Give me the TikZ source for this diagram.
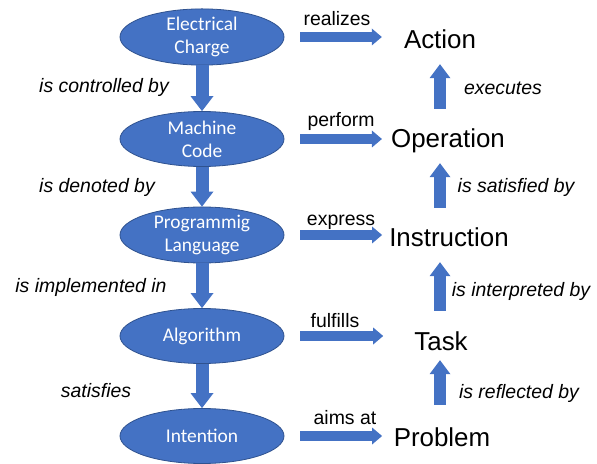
\documentclass[tikz,border=0pt]{standalone}
\usepackage{fontspec}
\setmainfont{Liberation Sans}
\newfontfamily\calibrifont{Carlito}
\usetikzlibrary{shapes.geometric,arrows.meta}
\definecolor{boxblue}{HTML}{4472C4}
\definecolor{edgeblue}{HTML}{2F528F}

\begin{document}
\begin{tikzpicture}[x=1bp,y=-1bp,
  layer/.style={ellipse,fill=boxblue,draw=edgeblue,line width=0.8bp,minimum width=164bp,minimum height=55bp,inner sep=0pt,text=white,align=center,font=\calibrifont\fontsize{19.5}{23}\selectfont},
  concept/.style={inner sep=0pt,text height=19bp,text depth=0pt,anchor=base,font=\fontsize{26}{30}\selectfont},
  verb/.style={inner sep=0pt,anchor=base,font=\fontsize{19.5}{23}\selectfont},
  relation/.style={verb,font=\fontsize{19.5}{23}\selectfont\itshape},
  downflow/.style={draw=boxblue,line width=13bp,-{Triangle[width=23bp,length=15bp,line width=0pt]}},
  sideflow/.style={draw=boxblue,line width=9.5bp,shorten <=16bp,-{Triangle[width=17bp,length=10bp,line width=0pt]}},
  upflow/.style={draw=boxblue,line width=12bp,shorten <=20bp,shorten >=15bp,-{Triangle[width=21bp,length=14bp,line width=0pt]}}]
 \useasboundingbox (0,0) rectangle (597,464);

 %Layers
 \node[layer] (charge) at (202,37) {Electrical\\Charge};
 \node[layer] (machine) at (202,139) {Machine\\Code};
 \node[layer] (language) at (202,235) {Programmig\\Language};
 \node[layer] (algorithm) at (202,336) {Algorithm};
 \node[layer] (intention) at (202,436) {Intention};

 %Concepts
 \node[concept] (action) at (440,49) {Action};
 \node[concept] (operation) at (448,148) {Operation};
 \node[concept] (instruction) at (449,247) {Instruction};
 \node[concept] (task) at (441,350) {Task};
 \node[concept] (problem) at (442,446) {Problem};

 %Left column
 \draw[downflow] (charge) -- (machine);
 \draw[downflow] (machine) -- (language);
 \draw[downflow] (language) -- (algorithm);
 \draw[downflow] (algorithm) -- (intention);

 \node[relation] (controlled) at (104,93) {is controlled by};
 \node[relation] (denoted) at (97,193) {is denoted by};
 \node[relation] (implemented) at (91,293) {is implemented in};
 \node[relation] (satisfies) at (96,397) {satisfies};

 %Across
 \draw[sideflow,shorten >=22bp] (charge.east) -- (charge.east -| action.west);
 \draw[sideflow,shorten >=9bp] (machine.east) -- (machine.east -| operation.west);
 \draw[sideflow,shorten >=7bp] (language.east) -- (language.east -| instruction.west);
 \draw[sideflow,shorten >=31bp] (algorithm.east) -- (algorithm.east -| task.west);
 \draw[sideflow,shorten >=11.5bp] (intention.east) -- (intention.east -| problem.west);

 \node[verb] (realizes) at (337,26) {realizes};
 \node[verb] (perform) at (341,127) {perform};
 \node[verb] (express) at (341,226) {express};
 \node[verb] (fulfills) at (335,327) {fulfills};
 \node[verb] (aimsat) at (345,424) {aims at};

 %Right column
 \draw[upflow] (operation.north -| action) -- (action.south);
 \draw[upflow] (instruction.north -| action) -- (operation.south -| action);
 \draw[upflow] (task.north -| action) -- (instruction.south -| action);
 \draw[upflow,shorten <=22bp,shorten >=10bp] (problem.north -| action) -- (task.south -| action);

 \node[relation] (executes) at (503,95) {executes};
 \node[relation] (satisfied) at (516,193) {is satisfied by};
 \node[relation] (interpreted) at (521,297) {is interpreted by};
 \node[relation] (reflected) at (519,398) {is reflected by};
\end{tikzpicture}
\end{document}
